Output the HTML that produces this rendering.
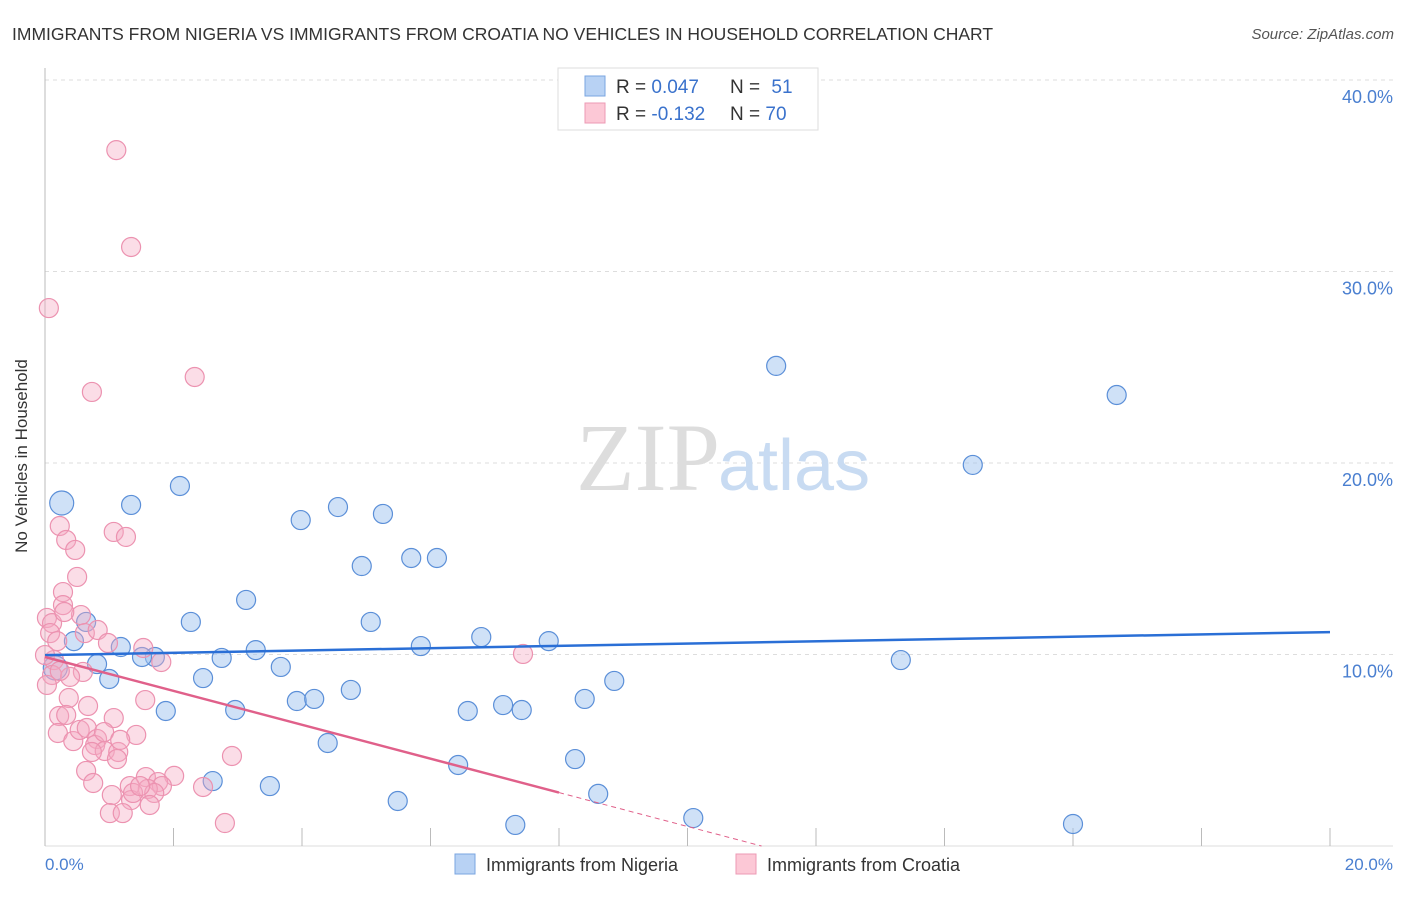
<!DOCTYPE html>
<html><head><meta charset="utf-8"><style>
body{margin:0;background:#fff;font-family:"Liberation Sans",sans-serif}
</style></head><body>
<svg width="1406" height="892" xmlns="http://www.w3.org/2000/svg">
<text x="12" y="40" font-size="17.5" fill="#333">IMMIGRANTS FROM NIGERIA VS IMMIGRANTS FROM CROATIA NO VEHICLES IN HOUSEHOLD CORRELATION CHART</text>
<text x="1394" y="39" font-size="15" fill="#555" font-style="italic" text-anchor="end">Source: ZipAtlas.com</text>
<g id="grid"></g>
<text x="720" y="490" font-size="96" font-family="Liberation Serif" fill="#ddd" text-anchor="end">ZIP</text>
<text x="718" y="490" font-size="72" fill="#c8dbf2">atlas</text>
<line x1="45" y1="68" x2="45" y2="846" stroke="#bbb"/>
<line x1="45" y1="846" x2="1393" y2="846" stroke="#ddd"/>
<g id="xticks"></g>
<text x="27" y="456" font-size="17" fill="#333" text-anchor="middle" transform="rotate(-90 27 456)">No Vehicles in Household</text>
<text x="45" y="870" font-size="17" fill="#4a7fd0">0.0%</text>
<text x="1393" y="870" font-size="17" fill="#4a7fd0" text-anchor="end">20.0%</text>
<g id="pts"></g>
<g id="lines"></g>
<g>
<rect x="558" y="68" width="260" height="62" fill="#fff" stroke="#ddd"/>
<rect x="585" y="76" width="20" height="20" fill="#b8d2f4" stroke="#7aa5e0"/>
<rect x="585" y="103" width="20" height="20" fill="#fcc8d6" stroke="#ec9ab4"/>
<text x="616" y="93" font-size="19" fill="#333">R = <tspan fill="#3a72cc">0.047</tspan></text>
<text x="730" y="93" font-size="19" fill="#333">N = <tspan fill="#3a72cc" dx="6">51</tspan></text>
<text x="616" y="120" font-size="19" fill="#333">R = <tspan fill="#3a72cc">-0.132</tspan></text>
<text x="730" y="120" font-size="19" fill="#333">N = <tspan fill="#3a72cc">70</tspan></text>
</g>
<g>
<rect x="455" y="854" width="20" height="20" fill="#b8d2f4" stroke="#7aa5e0"/>
<text x="486" y="871" font-size="18" fill="#333">Immigrants from Nigeria</text></g>
<g>
<rect x="736" y="854" width="20" height="20" fill="#fcc8d6" stroke="#ec9ab4"/>
<text x="767" y="871" font-size="18" fill="#333">Immigrants from Croatia</text></g>
</svg>
<script>
const yTicks=[10,20,30,40];
const xTicks=[0,2,4,6,8,10,12,14,16,18,20];
const nigeriaX=[0.26,1.34,2.10,3.98,4.56,5.26,4.93,5.70,6.10,3.13,2.27,5.07,0.64,0.45,1.18,3.28,1.71,1.51,0.81,2.75,3.67,5.85,6.79,7.84,1.00,2.46,4.76,3.92,4.19,2.96,1.88,6.58,7.13,7.42,8.40,8.86,4.40,6.43,8.25,2.61,3.50,5.49,8.61,7.32,10.09,11.38,16.68,14.44,13.32,16.00,0.16];
const nigeriaY=[17.91,17.81,18.80,17.02,17.70,17.34,14.62,15.04,15.04,12.85,11.70,11.70,11.70,10.70,10.39,10.23,9.87,9.87,9.50,9.82,9.35,10.44,10.91,10.70,8.72,8.77,8.15,7.57,7.68,7.10,7.05,7.05,7.36,7.10,7.68,8.62,5.38,4.23,4.54,3.39,3.13,2.35,2.72,1.10,1.46,25.07,23.55,19.90,9.71,1.15,9.30];
const croatiaX=[1.11,1.34,0.06,2.33,0.73,0.23,0.33,1.07,1.26,0.47,0.50,0.28,0.28,0.56,0.03,0.11,0.08,0.62,0.82,0.19,0.98,1.53,1.81,0.14,0.11,0.59,0.39,0.37,1.56,0.22,0.33,1.07,0.67,0.20,0.44,0.54,0.65,0.81,1.42,0.78,0.93,1.14,0.73,1.12,2.91,7.44,0.64,0.75,1.57,1.32,2.01,1.76,1.82,1.60,1.70,1.34,1.37,2.46,1.63,1.04,1.01,1.21,2.80,0.23,0.03,0.30,0.0,0.92,1.17,1.48];
const croatiaY=[36.34,31.28,28.09,24.49,23.71,16.71,15.98,16.40,16.14,15.46,14.05,13.26,12.58,12.06,11.91,11.64,11.12,11.12,11.28,10.70,10.60,10.34,9.61,9.71,8.93,9.09,8.83,7.73,7.62,6.79,6.84,6.68,7.31,5.90,5.48,6.06,6.16,5.59,5.80,5.27,4.96,4.91,4.91,4.54,4.70,10.03,3.92,3.29,3.60,3.13,3.66,3.34,3.13,2.98,2.77,2.40,2.77,3.08,2.14,2.66,1.72,1.72,1.20,9.14,8.41,12.22,9.97,5.95,5.54,3.13];
const nigeriaBig=[0,50];
const nigeriaFit=[9.97,0.06];
const croatiaFit=[9.87,-0.885];
const croatiaSolidEnd=8.0;
const NS='http://www.w3.org/2000/svg';
const X=v=>45+v*64.25, Y=v=>846-v*19.15;
function mk(t,a,p){const e=document.createElementNS(NS,t);for(const k in a)e.setAttribute(k,a[k]);document.getElementById(p).appendChild(e);return e;}
yTicks.forEach(t=>{
 const l=mk('line',{x1:45,x2:1393,y1:Y(t),y2:Y(t),stroke:'#ddd','stroke-dasharray':'4,4'},'grid');
 
 
 const tx=mk('text',{x:1393,y:Y(t)+23,'font-size':18,fill:'#4a7fd0','text-anchor':'end'},'grid');
 tx.textContent=t.toFixed(1)+'%';
 
 
});
xTicks.forEach(t=>{
 const l=mk('line',{x1:X(t),x2:X(t),y1:828,y2:846,stroke:'#bbb'},'xticks');
 
 
});
nigeriaX.forEach((x,i)=>{
 const r=(i===0||i===50)?12:9.5;
 const c=mk('circle',{cx:X(x),cy:Y(nigeriaY[i]),r:r,fill:'rgba(160,195,240,0.5)',stroke:'#5b8fd8','stroke-width':1.2},'pts');
 
 
});
croatiaX.forEach((x,i)=>{
 const c=mk('circle',{cx:X(x),cy:Y(croatiaY[i]),r:9.5,fill:'rgba(245,170,195,0.4)',stroke:'#ec92b0','stroke-width':1.2},'pts');
 
 
});
const bl=mk('line',{x1:X(0),y1:Y(nigeriaFit[0]),x2:X(20),y2:Y(nigeriaFit[0]+20*nigeriaFit[1]),stroke:'#2a6fd6','stroke-width':2.5},'lines');


const pl=mk('line',{x1:X(0),y1:Y(croatiaFit[0]),x2:X(croatiaSolidEnd),y2:Y(croatiaFit[0]+croatiaSolidEnd*croatiaFit[1]),stroke:'#e0608a','stroke-width':2.5},'lines');


const xe=-croatiaFit[0]/croatiaFit[1];
const pd=mk('line',{x1:X(croatiaSolidEnd),y1:Y(croatiaFit[0]+croatiaSolidEnd*croatiaFit[1]),x2:X(xe),y2:Y(0),stroke:'#e0608a','stroke-width':1,'stroke-dasharray':'5,4'},'lines');


</script>
</body></html>
